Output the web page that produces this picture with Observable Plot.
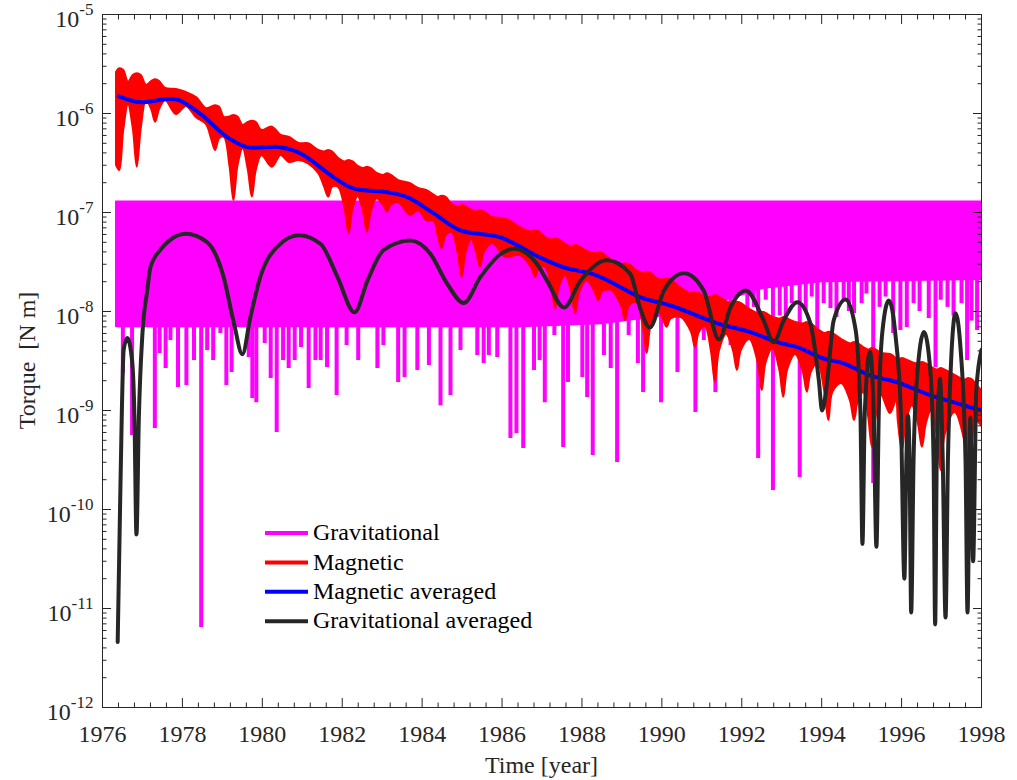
<!DOCTYPE html>
<html><head><meta charset="utf-8">
<script src="https://cdn.jsdelivr.net/npm/d3@7"></script>
<script src="https://cdn.jsdelivr.net/npm/@observablehq/plot@0.6"></script>
<style>body{margin:0;background:#fff}#chart{position:relative;width:1017px;height:780px}</style>
</head><body><div id="chart"></div>
<script>
// ---- Magnetic torque (red band): lower and upper envelope of the fast oscillation
const magYear = [1976.35,1976.43,1976.53,1976.65,1976.77,1976.87,1976.97,1977.10,1977.23,1977.33,1977.43,1977.58,1977.85,1978.10,1978.35,1978.60,1978.73,1978.83,1978.93,1979.05,1979.19,1979.29,1979.39,1979.52,1979.65,1979.75,1979.85,1979.99,1980.25,1980.47,1980.68,1980.92,1981.16,1981.41,1981.56,1981.66,1981.76,1981.91,1982.07,1982.17,1982.27,1982.40,1982.53,1982.63,1982.73,1982.87,1983.03,1983.13,1983.23,1983.41,1983.71,1983.91,1984.11,1984.31,1984.40,1984.50,1984.60,1984.75,1984.90,1985.00,1985.10,1985.24,1985.36,1985.46,1985.56,1985.77,1986.09,1986.46,1986.74,1986.84,1986.94,1987.09,1987.24,1987.34,1987.44,1987.59,1987.74,1987.84,1987.94,1988.13,1988.32,1988.42,1988.52,1988.75,1988.99,1989.09,1989.19,1989.37,1989.53,1989.63,1989.73,1989.89,1990.03,1990.13,1990.23,1990.49,1990.74,1990.84,1990.94,1991.09,1991.24,1991.34,1991.44,1991.62,1991.79,1991.89,1991.99,1992.20,1992.41,1992.51,1992.61,1992.78,1992.95,1993.05,1993.15,1993.35,1993.54,1993.64,1993.74,1993.91,1994.08,1994.18,1994.28,1994.50,1994.72,1994.82,1994.92,1995.05,1995.17,1995.27,1995.37,1995.50,1995.72,1995.87,1995.92,1996.02,1996.12,1996.27,1996.42,1996.52,1996.62,1996.75,1996.89,1996.99,1997.09,1997.34,1997.58,1997.68,1997.78,1997.85,1998.00];
const magLow = [2.99e-7,2.65e-7,6.67e-7,1.23e-6,7.06e-7,2.87e-7,7.06e-7,1.35e-6,1.10e-6,8.17e-7,1.10e-6,1.35e-6,9.77e-7,1.18e-6,9.12e-7,7.74e-7,5.55e-7,4.23e-7,5.55e-7,5.73e-7,2.95e-7,1.32e-7,2.95e-7,4.43e-7,2.68e-7,1.43e-7,2.68e-7,3.77e-7,2.87e-7,3.77e-7,3.2e-7,3.35e-7,3.10e-7,2.48e-7,1.80e-7,1.43e-7,1.80e-7,1.79e-7,1.09e-7,6.10e-8,1.09e-7,1.45e-7,1.03e-7,6.32e-8,1.03e-7,1.38e-7,1.19e-7,1.01e-7,1.19e-7,1.26e-7,9.33e-8,1.05e-7,8.30e-8,8.11e-8,5.83e-8,4.30e-8,5.83e-8,6.28e-8,3.94e-8,2.22e-8,3.94e-8,5.33e-8,4.01e-8,2.80e-8,4.01e-8,4.86e-8,3.53e-8,3.68e-8,2.76e-8,2.22e-8,2.76e-8,2.78e-8,1.79e-8,1.06e-8,1.79e-8,2.31e-8,1.56e-8,9.48e-9,1.56e-8,2.06e-8,1.59e-8,1.29e-8,1.59e-8,1.63e-8,1.14e-8,8.11e-9,1.14e-8,1.23e-8,7.29e-9,3.74e-9,7.29e-9,1.05e-8,8.39e-9,6.93e-9,8.39e-9,8.69e-9,6.19e-9,4.36e-9,6.19e-9,7.05e-9,3.97e-9,1.93e-9,3.97e-9,5.86e-9,4.05e-9,2.54e-9,4.05e-9,5.21e-9,3.05e-9,1.59e-9,3.05e-9,4.23e-9,2.58e-9,1.36e-9,2.58e-9,3.68e-9,2.43e-9,1.53e-9,2.43e-9,2.99e-9,1.53e-9,7.93e-10,1.53e-9,1.87e-9,1.25e-9,7.93e-10,1.25e-9,1.52e-9,8.95e-10,4.26e-10,8.95e-10,1.42e-9,9.33e-10,1.26e-9,7.66e-10,3.94e-10,7.66e-10,1.12e-9,7.36e-10,4.26e-10,7.36e-10,1.0e-9,5.65e-10,2.48e-10,5.65e-10,9.55e-10,4.94e-10,2.12e-10,4.94e-10,7.93e-10,7.05e-10];
const magHigh = [2.59e-6,2.83e-6,2.72e-6,2.07e-6,2.42e-6,2.52e-6,2.42e-6,1.92e-6,2.10e-6,2.19e-6,2.10e-6,1.79e-6,1.75e-6,1.63e-6,1.45e-6,1.12e-6,1.16e-6,1.20e-6,1.16e-6,9.12e-7,9.23e-7,9.55e-7,9.23e-7,7.57e-7,8.11e-7,8.36e-7,8.11e-7,6.73e-7,7.28e-7,6.0e-7,5.73e-7,4.98e-7,4.94e-7,4.23e-7,4.08e-7,4.23e-7,4.08e-7,3.51e-7,3.24e-7,3.35e-7,3.24e-7,2.92e-7,2.78e-7,2.87e-7,2.78e-7,2.48e-7,2.37e-7,2.46e-7,2.37e-7,2.10e-7,1.95e-7,1.75e-7,1.67e-7,1.49e-7,1.42e-7,1.46e-7,1.42e-7,1.20e-7,1.14e-7,1.18e-7,1.14e-7,1.05e-7,1.01e-7,1.05e-7,1.01e-7,8.89e-8,8.63e-8,7.05e-8,6.35e-8,6.58e-8,6.35e-8,5.58e-8,5.27e-8,5.42e-8,5.27e-8,4.75e-8,4.49e-8,4.65e-8,4.49e-8,4.04e-8,3.85e-8,3.97e-8,3.85e-8,3.27e-8,2.95e-8,3.03e-8,2.95e-8,2.59e-8,2.42e-8,2.49e-8,2.42e-8,2.15e-8,2.08e-8,2.14e-8,2.08e-8,1.71e-8,1.52e-8,1.56e-8,1.52e-8,1.38e-8,1.40e-8,1.45e-8,1.40e-8,1.26e-8,1.20e-8,1.24e-8,1.20e-8,1.05e-8,9.55e-9,9.84e-9,9.55e-9,8.69e-9,8.39e-9,8.69e-9,8.39e-9,7.74e-9,7.48e-9,7.74e-9,7.48e-9,6.58e-9,6.0e-9,6.18e-9,6.0e-9,5.21e-9,4.70e-9,4.86e-9,4.70e-9,4.33e-9,4.08e-9,4.23e-9,4.08e-9,3.77e-9,3.68e-9,3.35e-9,3.24e-9,3.35e-9,3.24e-9,3.05e-9,2.95e-9,3.05e-9,2.95e-9,2.72e-9,2.56e-9,2.65e-9,2.56e-9,2.26e-9,2.03e-9,2.10e-9,2.03e-9,1.87e-9,1.59e-9];

// ---- Gravitational torque (magenta): dense band top, lower edge, downward spikes
const gravTop = 1.28e-7;
const gravBandYear = [1976.35,1986.5,1988.5,1990.0,1991.5,1992.5,1994.0,1998.02];
const gravBandLow = [7.0e-9,7.0e-9,7.5e-9,9.0e-9,1.26e-8,1.7e-8,2.0e-8,2.1e-8];
const gravSpikeYear = [1976.51,1976.74,1977.13,1977.31,1977.43,1977.58,1977.70,1977.89,1978.10,1978.29,1978.47,1978.62,1978.77,1978.95,1979.10,1979.23,1979.37,1979.66,1979.75,1979.85,1980.06,1980.21,1980.36,1980.52,1980.66,1980.81,1980.97,1981.16,1981.33,1981.46,1981.62,1981.86,1982.11,1982.40,1982.88,1983.03,1983.40,1983.56,1983.88,1984.17,1984.46,1984.71,1984.96,1985.38,1985.54,1985.67,1985.88,1986.21,1986.36,1986.53,1986.80,1986.94,1987.07,1987.31,1987.53,1987.65,1988.01,1988.13,1988.27,1988.55,1988.72,1988.88,1989.17,1989.40,1989.53,1989.98,1990.39,1990.84,1991.05,1991.34,1991.72,1992.14,1992.30,1992.41,1992.60,1992.78,1992.95,1993.10,1993.25,1993.45,1993.60,1993.75,1993.89,1994.05,1994.22,1994.37,1994.55,1994.68,1994.81,1995.00,1995.12,1995.29,1995.45,1995.60,1995.79,1995.97,1996.13,1996.30,1996.45,1996.68,1996.85,1996.98,1997.15,1997.30,1997.50,1997.64,1997.75,1997.89];
const gravSpikeLow = [2.37e-9,5.58e-10,7.7e-9,6.58e-10,3.77e-9,2.65e-9,5.09e-9,1.71e-9,1.79e-9,3.2e-9,6.43e-12,4.04e-9,3.2e-9,6.0e-9,1.79e-9,2.42e-9,7.2e-9,3.43e-9,1.32e-9,1.2e-9,4.75e-9,2.1e-9,6.0e-10,3.2e-9,2.65e-9,3.2e-9,4.33e-9,1.67e-9,3.2e-9,3.2e-9,2.72e-9,1.42e-9,4.54e-9,3.2e-9,2.65e-9,4.54e-9,1.92e-9,2.15e-9,2.54e-9,2.85e-9,1.12e-9,1.42e-9,4.04e-9,3.6e-9,2.99e-9,3.6e-9,3.43e-9,5.21e-10,5.86e-10,4.13e-10,2.54e-9,3.2e-9,1.2e-9,5.73e-9,4.23e-10,1.92e-9,2.15e-9,1.35e-9,3.51e-10,3.6e-9,2.65e-9,2.99e-10,5.73e-9,2.99e-9,1.52e-9,1.2e-9,2.42e-9,9.55e-10,5.09e-9,1.52e-9,4.54e-9,7.57e-9,1.1e-8,3.27e-10,1.3e-8,1.56e-10,9.0e-9,5.09e-9,1.2e-8,2.1e-10,1.0e-8,1.4e-8,3.43e-9,1.2e-8,1.07e-8,8.69e-9,1.3e-8,1.0e-8,9.55e-9,1.2e-8,1.5e-8,1.83e-10,1.1e-8,1.4e-8,6.0e-9,6.43e-9,6.89e-9,1.2e-8,1.0e-8,8.49e-9,2.72e-9,1.3e-8,1.1e-8,9.0e-9,1.2e-8,3.2e-9,8.0e-9,6.43e-9];

// ---- Magnetic averaged (blue)
const magAvgYear = [1976.41,1976.95,1977.62,1977.90,1978.45,1979.12,1979.62,1980.46,1980.96,1981.78,1982.28,1983.13,1983.63,1984.29,1984.96,1985.96,1986.96,1987.54,1988.38,1989.47,1990.22,1991.39,1992.22,1992.89,1993.39,1994.05,1994.55,1995.22,1995.89,1996.73,1997.39,1998.00];
const magAvgVal = [1.49e-6,1.30e-6,1.40e-6,1.37e-6,9.9e-7,5.77e-7,4.57e-7,4.57e-7,3.94e-7,2.28e-7,1.75e-7,1.60e-7,1.43e-7,9.8e-8,6.6e-8,5.6e-8,3.5e-8,2.8e-8,2.31e-8,1.39e-8,1.15e-8,7.6e-9,6.2e-9,4.9e-9,4.36e-9,3.35e-9,2.99e-9,2.26e-9,1.93e-9,1.42e-9,1.18e-9,1.0e-9];

// ---- Gravitational averaged (dark grey)
const gravAvgYear = [1976.38,1976.45,1976.53,1976.62,1976.74,1976.80,1976.85,1976.91,1977.00,1977.12,1977.20,1977.45,1977.67,1978.08,1978.62,1979.03,1979.29,1979.50,1979.70,1979.95,1980.37,1980.91,1981.46,1981.88,1982.31,1982.63,1983.04,1983.71,1984.21,1984.63,1985.04,1985.46,1985.96,1986.30,1986.88,1987.13,1987.55,1987.96,1988.63,1989.21,1989.45,1989.70,1990.05,1990.55,1991.05,1991.43,1991.72,1992.10,1992.55,1992.80,1993.05,1993.39,1993.72,1993.93,1994.01,1994.14,1994.30,1994.60,1994.85,1994.97,1995.02,1995.08,1995.21,1995.30,1995.37,1995.43,1995.52,1995.68,1995.85,1995.98,1996.07,1996.12,1996.16,1996.20,1996.24,1996.30,1996.38,1996.56,1996.72,1996.80,1996.84,1996.88,1996.96,1997.03,1997.10,1997.16,1997.24,1997.35,1997.48,1997.60,1997.65,1997.72,1997.79,1997.87,1998.00];
const gravAvgVal = [4.6e-12,1.8e-10,4.1e-9,5.4e-9,3.2e-9,8.5e-10,5.6e-11,8.5e-10,6.0e-9,1.62e-8,2.8e-8,4.2e-8,5.2e-8,6.1e-8,5.0e-8,2.24e-8,7.6e-9,3.7e-9,8.7e-9,2.24e-8,4.5e-8,5.9e-8,4.8e-8,2.24e-8,9.8e-9,2.04e-8,4.2e-8,5.2e-8,3.8e-8,1.9e-8,1.22e-8,2.24e-8,3.8e-8,4.3e-8,3.0e-8,2.04e-8,1.1e-8,2.04e-8,3.3e-8,2.4e-8,1.1e-8,6.9e-9,1.62e-8,2.44e-8,1.62e-8,5.2e-9,1.1e-8,1.63e-8,8.1e-9,4.9e-9,8.1e-9,1.24e-8,7.5e-9,2.0e-9,1.0e-9,2.0e-9,8.1e-9,1.32e-8,6.5e-9,9.3e-10,4.5e-11,1.0e-9,3.9e-9,1.0e-9,4.2e-11,1.0e-9,6.3e-9,1.29e-8,5.6e-9,1.0e-9,2.0e-11,3.2e-10,8.9e-10,3.2e-10,9.1e-12,3.2e-10,2.0e-9,6.2e-9,2.5e-9,3.2e-10,6.9e-12,3.2e-10,2.1e-9,3.2e-10,8.1e-12,3.2e-10,3.2e-9,9.6e-9,4.0e-9,3.2e-10,9.1e-12,8.5e-10,3.0e-11,1.6e-9,4.1e-9];

// ---- Ticks and labels
const xMajor = [1976,1978,1980,1982,1984,1986,1988,1990,1992,1994,1996,1998];
const xMinor = d3.range(0, 56).map(i => +(1976 + i * 0.4).toFixed(1)).filter(v => v <= 1998 && !xMajor.includes(v));
const yMajor = [1e-12,1e-11,1e-10,1e-9,1e-8,1e-7,1e-6,1e-5];
const yMinor = yMajor.slice(0, -1).flatMap(p => [2,3,4,5,6,7,8,9].map(k => k * p));
const legendNames = ["Gravitational","Magnetic","Magnetic averaged","Gravitational averaged"];
const legendColors = ["#ff00ff","#ff0000","#0000ff","#262626"];
const xLabel = "Time [year]";
const yLabel = "Torque\u00a0 [N m]";

const magRows = magYear.map((t, i) => ({t, lo: magLow[i], hi: magHigh[i]}));
const gravBand = gravBandYear.map((t, i) => ({t, lo: gravBandLow[i]}));
const gravSpikes = gravSpikeYear.map((t, i) => ({t, lo: gravSpikeLow[i]}));
const magAvg = magAvgYear.map((t, i) => ({t, v: magAvgVal[i]}));
const gravAvg = gravAvgYear.map((t, i) => ({t, v: gravAvgVal[i]}));

const blank = () => "";
const tickAxes = [];
for (const anchor of ["bottom","top"]) {
  tickAxes.push(Plot.axisX({anchor, ticks: xMajor, tickSize: -9, tickFormat: blank, label: null}));
  tickAxes.push(Plot.axisX({anchor, ticks: xMinor, tickSize: -4.5, tickFormat: blank, label: null}));
}
for (const anchor of ["left","right"]) {
  tickAxes.push(Plot.axisY({anchor, ticks: yMajor, tickSize: -9, tickFormat: blank, label: null}));
  tickAxes.push(Plot.axisY({anchor, ticks: yMinor, tickSize: -4.5, tickFormat: blank, label: null}));
}

const chart = Plot.plot({
  width: 1017, height: 780,
  marginLeft: 102, marginRight: 36, marginTop: 14, marginBottom: 73,
  style: {fontFamily: "'Liberation Serif', 'Times New Roman', serif", fontSize: "24px", color: "#262626", background: "#fff"},
  x: {domain: [1976, 1998], label: null},
  y: {type: "log", domain: [1e-12, 1e-5], label: null},
  marks: [
    Plot.areaY(gravBand, {x: "t", y1: "lo", y2: gravTop, fill: "#ff00ff", stroke: "#ff00ff", strokeWidth: 2, clip: true}),
    Plot.ruleX(gravSpikes, {x: "t", y1: "lo", y2: gravTop, stroke: "#ff00ff", strokeWidth: 4, clip: true}),
    Plot.areaY(magRows, {x: "t", y1: "lo", y2: "hi", fill: "#ff0000", stroke: "#ff0000", strokeWidth: 2, curve: "catmull-rom", clip: true}),
    Plot.line(magAvg, {x: "t", y: "v", stroke: "#0000ff", strokeWidth: 4, curve: "catmull-rom", clip: true}),
    Plot.line(gravAvg, {x: "t", y: "v", stroke: "#262626", strokeWidth: 4, curve: "monotone-x", clip: true}),
    Plot.frame({stroke: "#262626", strokeWidth: 1}),
    Plot.axisX({anchor: "bottom", ticks: xMajor, tickSize: 0, tickPadding: 17, tickFormat: d => String(d), label: null}),
    Plot.axisY({anchor: "left", ticks: yMajor, tickSize: 0, tickPadding: 9, tickFormat: d => String(Math.round(Math.log10(d))), label: null}),
    ...tickAxes
  ]
});
document.getElementById("chart").appendChild(chart);

const svg = d3.select(chart);
// superscript powers of ten on the y tick labels
svg.selectAll('g[aria-label="y-axis tick label"] text').each(function() {
  const t = this.textContent;
  if (!t) return;
  const s = d3.select(this);
  s.text(null).attr("y", "0.53em");
  s.append("tspan").text("10");
  s.append("tspan").attr("dy", -12).attr("font-size", 17).text(t);
});
// axis titles
svg.append("text").attr("x", 541.5).attr("y", 773).attr("text-anchor", "middle")
  .attr("font-size", 24).attr("fill", "#262626").text(xLabel);
svg.append("text").attr("transform", "translate(35,360.5) rotate(-90)").attr("text-anchor", "middle")
  .attr("font-size", 24).attr("fill", "#262626").text(yLabel);
// legend
const leg = svg.append("g").attr("font-size", 24).attr("fill", "#000").attr("text-anchor", "start");
legendNames.forEach((name, i) => {
  const yy = 533 + i * 29.4;
  leg.append("line").attr("x1", 265).attr("x2", 308).attr("y1", yy).attr("y2", yy)
    .attr("stroke", legendColors[i]).attr("stroke-width", 4);
  leg.append("text").attr("x", 313).attr("y", yy).attr("dy", "0.3em").attr("text-anchor", "start").text(name);
});
</script>
</body></html>
